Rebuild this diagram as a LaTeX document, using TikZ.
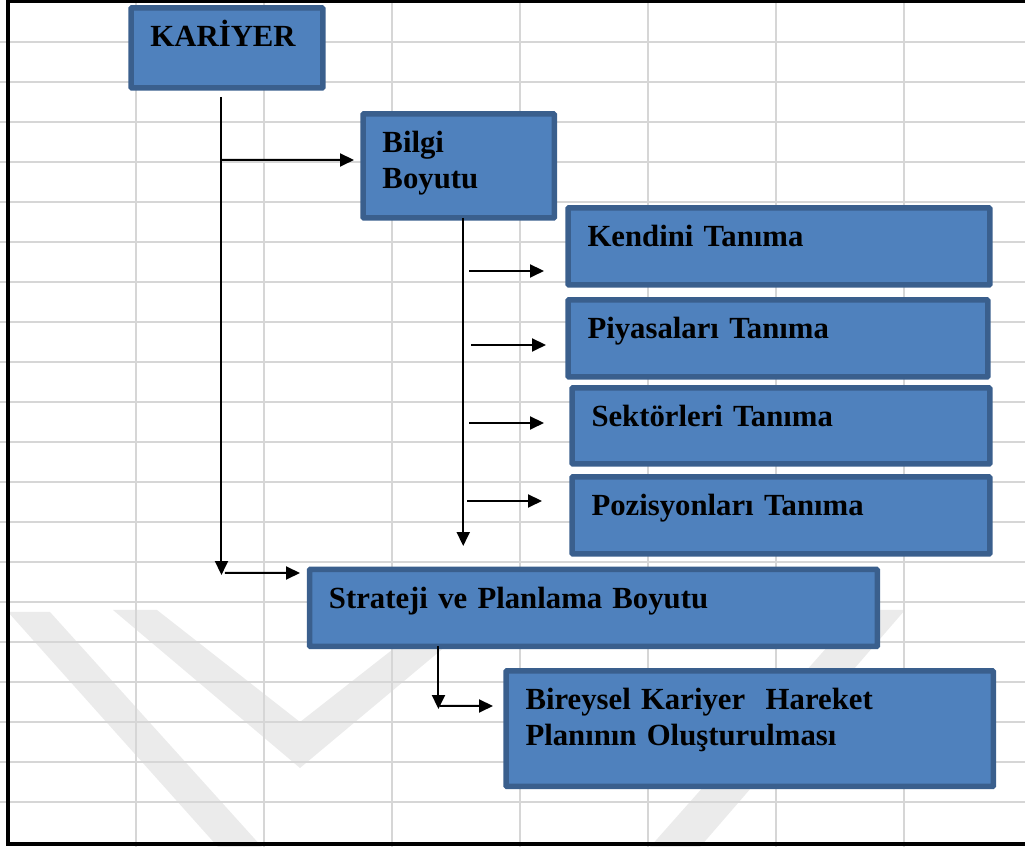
\documentclass[tikz,border=0pt]{standalone}
\usepackage{fontspec}
\setmainfont{Liberation Serif}
\usepackage{tikz}
\usetikzlibrary{arrows.meta, positioning}
\usepackage{xcolor}
\definecolor{kutumavi}{HTML}{4F81BD}
\definecolor{kenarmavi}{HTML}{3A5F8D}
\definecolor{izgara}{HTML}{D6D6D6}
\definecolor{filigran}{HTML}{EBEBEB}
\tikzset{%
	kutu/.style={
		rectangle,
		draw=kenarmavi,
		fill=kutumavi,
		line width=0.11cm,
		rounded corners=0.5pt,
		anchor=north west,
		align=left,
		inner xsep=0.39cm,
		inner ysep=0pt,
		outer sep=0pt,
		text height=0.78cm,
		font=\fontsize{17.5}{20.2}\selectfont\bfseries
	},
	ok/.style={
		draw=black,
		line width=0.04cm,
		-{Triangle[length=0.28cm, width=0.26cm]}
	},
}

\begin{document}
\begin{tikzpicture}[x=0.02cm, y=-0.02cm]
	\useasboundingbox (0,0) rectangle (1025,847);
	\clip (0,0) rectangle (1025,847);
	
	% watermark in the back
	\fill[filigran] (8,612) -- (50,612) -- (262,847) -- (218,847) -- cycle;
	\fill[filigran] (113,610) -- (157,610) -- (300,722) -- (443,610) -- (489,610) -- (300,768) -- cycle;
	\fill[filigran] (650,847) -- (700,847) -- (905,610) -- (860,610) -- cycle;
	
	% spreadsheet grid
	\foreach \gx in {136,264,392,520,648,776,904}
		\draw[izgara, line width=0.045cm] (\gx,0) -- (\gx,847);
	\foreach \gy in {42,82,...,802}
		\draw[izgara, line width=0.045cm] (0,\gy) -- (1025,\gy);
	
	% frame
	\draw[black, line width=0.08cm] (8,1.5) rectangle (1060,844);
	
	% Nodes
	\node[kutu, text width=3.06cm, text depth=0.82cm] (kariyer) at (131,8) {KARİYER};
	\node[kutu, text width=3.05cm, text depth=1.30cm] (bilgi) at (363,114) {Bilgi\\Boyutu};
	\node[kutu, text width=7.66cm, text depth=0.76cm] (kendini) at (568,208) {Kendini Tanıma};
	\node[kutu, text width=7.62cm, text depth=0.76cm] (piyasa) at (568,300) {Piyasaları Tanıma};
	\node[kutu, text width=7.58cm, text depth=0.74cm] (sektor) at (572,388) {Sektörleri Tanıma};
	\node[kutu, text width=7.58cm, text depth=0.76cm] (pozisyon) at (572,477) {Pozisyonları Tanıma};
	\node[kutu, text width=10.58cm, text depth=0.76cm] (strateji) at (309.5,569.5) {Strateji ve Planlama Boyutu};
	\node[kutu, text width=8.97cm, text depth=1.53cm] (bireysel) at (506,671) {Bireysel Kariyer\ \ Hareket\\Planının Oluşturulması};
	
	% free ends of the arrows
	\coordinate (kUst) at ([xshift=-0.11cm, yshift=-0.18cm]kariyer.south);
	\coordinate (kAlt) at (kUst |- 0,575);
	\coordinate (bAlt) at ([xshift=0.09cm]bilgi.south |- 0,546);
	\coordinate (sAlt) at ([xshift=2.58cm]strateji.south west |- 0,709);
	\coordinate (u1) at ([xshift=-0.48cm, yshift=-0.49cm]kendini.west);
	\coordinate (u2) at ([xshift=-0.44cm, yshift=-0.13cm]piyasa.west);
	\coordinate (u3) at ([xshift=-0.56cm, yshift=0.06cm]sektor.west);
	\coordinate (u4) at ([xshift=-0.60cm, yshift=0.29cm]pozisyon.west);
	
	% Connectors
	\draw[ok] (kUst) -- (kAlt);
	\draw[ok] (kUst |- 0,160) -- ([xshift=-0.18cm, yshift=0.12cm]bilgi.west);
	\draw[ok] ([xshift=0.07cm, yshift=0.04cm]kAlt) -- ([shift={(-0.19cm,-0.07cm)}]strateji.north west);
	\draw[ok] ([xshift=0.09cm]bilgi.south) -- (bAlt);
	\foreach \u in {u1,u2,u3,u4}
		\draw[ok] ([xshift=-1.5cm]\u) -- (\u);
	\draw[ok] ([xshift=2.58cm]strateji.south west) -- (sAlt);
	\draw[ok] ([xshift=0.03cm, yshift=0.06cm]sAlt) -- ([xshift=-0.26cm, yshift=0.455cm]bireysel.west);
\end{tikzpicture}
\end{document}
